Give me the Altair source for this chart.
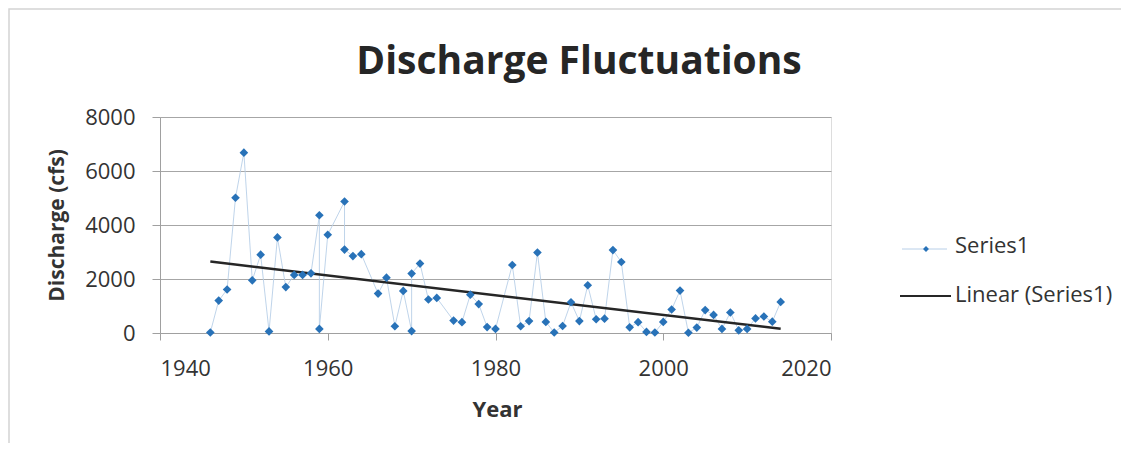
import altair as alt
import pandas as pd

years = [1946, 1947, 1948, 1949, 1950, 1951, 1952, 1953, 1954, 1955, 1956, 1957, 1958,
         1959, 1959, 1960, 1962, 1962, 1963, 1964, 1966, 1967, 1968, 1969, 1970, 1970,
         1971, 1972, 1973, 1975, 1976, 1977, 1978, 1979, 1980, 1982, 1983, 1984, 1985,
         1986, 1987, 1988, 1989, 1990, 1991, 1992, 1993, 1994, 1995, 1996, 1997, 1998,
         1999, 2000, 2001, 2002, 2003, 2004, 2005, 2006, 2007, 2008, 2009, 2010, 2011,
         2012, 2013, 2014]
discharge = [20, 1200, 1610, 5010, 6680, 1950, 2900, 60, 3540, 1700, 2150, 2150, 2210,
             4360, 150, 3640, 4870, 3090, 2850, 2920, 1460, 2050, 250, 1560, 70, 2200,
             2570, 1240, 1300, 460, 400, 1420, 1070, 220, 150, 2520, 250, 440, 2980,
             410, 20, 260, 1140, 440, 1770, 510, 530, 3070, 2630, 210, 400, 40,
             20, 410, 870, 1570, 10, 200, 850, 670, 150, 760, 100, 150, 540,
             610, 420, 1150]
legend_labels = ["Series1", "Linear (Series1)"]
title_text = "Discharge Fluctuations"
x_ticks = [1940, 1960, 1980, 2000, 2020]
y_ticks = [0, 2000, 4000, 6000, 8000]

FONT = "Open Sans"
MARKER = "#2872b8"
CONNECT = "#b8cfe8"
TREND = "#262626"
TEXT = "#333333"

df = pd.DataFrame({"year": years, "q": discharge, "idx": list(range(len(years)))})

xs = alt.X("year:Q", scale=alt.Scale(domain=[1940, 2020], nice=False),
           axis=alt.Axis(values=x_ticks, format="d", title="Year", grid=False,
                         tickSize=7, labelPadding=18, labelFontSize=22, labelFont=FONT,
                         labelColor=TEXT, titleFont=FONT, titleFontSize=22,
                         titleFontWeight="bold", titleColor=TEXT,
                         titleX=337, titleY=76, titleBaseline="middle",
                         domainColor="#a0a0a0", tickColor="#a0a0a0"))
ys = alt.Y("q:Q", scale=alt.Scale(domain=[0, 8000], nice=False),
           axis=alt.Axis(values=y_ticks, format="d", title="Discharge (cfs)", grid=True,
                         gridColor="#a6a6a6", gridWidth=1.2,
                         tickSize=8, labelPadding=17, labelFontSize=22, labelFont=FONT,
                         labelColor=TEXT, titleFont=FONT, titleFontSize=21,
                         titleFontWeight="bold", titleColor=TEXT,
                         titleX=-103, titleY=108, titleAngle=270, titleAlign="center",
                         titleBaseline="middle",
                         domainColor="#a0a0a0", tickColor="#a0a0a0"))

base = alt.Chart(df)
conn = base.mark_line(color=CONNECT, strokeWidth=1, opacity=0.9).encode(
    x=xs, y=ys, order="idx:Q")
pts = base.mark_point(shape="diamond", filled=True, size=75, color=MARKER, opacity=1).encode(
    x="year:Q", y="q:Q")
trend = base.transform_regression("year", "q", extent=[1946, 2014]).mark_line(
    color=TREND, strokeWidth=2.5).encode(x="year:Q", y="q:Q")

one = alt.Chart(pd.DataFrame({"s1": [legend_labels[0]], "s2": [legend_labels[1]],
                              "t": [title_text]}))
title = one.mark_text(align="center", baseline="alphabetic", font=FONT, fontSize=39,
                      fontWeight="bold", color="#262626").encode(
    x=alt.value(419), y=alt.value(-43), text="t:N")
leg1_line = one.mark_rule(color=CONNECT, strokeWidth=1).encode(
    x=alt.value(742), x2=alt.value(787), y=alt.value(132))
leg1_pt = one.mark_point(shape="diamond", filled=True, size=35, color=MARKER, opacity=1).encode(
    x=alt.value(766), y=alt.value(132))
leg1_txt = one.mark_text(align="left", baseline="middle", font=FONT, fontSize=22,
                         color=TEXT).encode(x=alt.value(795), y=alt.value(129), text="s1:N")
leg2_line = one.mark_rule(color=TREND, strokeWidth=2).encode(
    x=alt.value(740), x2=alt.value(791), y=alt.value(179))
leg2_txt = one.mark_text(align="left", baseline="middle", font=FONT, fontSize=22,
                         color=TEXT).encode(x=alt.value(795), y=alt.value(178), text="s2:N")
border = one.mark_rect(filled=False, stroke="#d4d4d4", strokeWidth=1.5).encode(
    x=alt.value(-151), x2=alt.value(1100), y=alt.value(-108), y2=alt.value(500))

chart = alt.layer(border, conn, trend, pts, title, leg1_line, leg1_pt, leg1_txt,
                  leg2_line, leg2_txt).properties(
    width=671, height=216,
    autosize=alt.AutoSizeParams(type="none"),
    padding={"left": 152, "top": 109, "right": 290, "bottom": 110},
).configure_view(stroke=None).configure(background="white")

chart.save("out.html", embed_options={"renderer": "svg", "actions": False})
